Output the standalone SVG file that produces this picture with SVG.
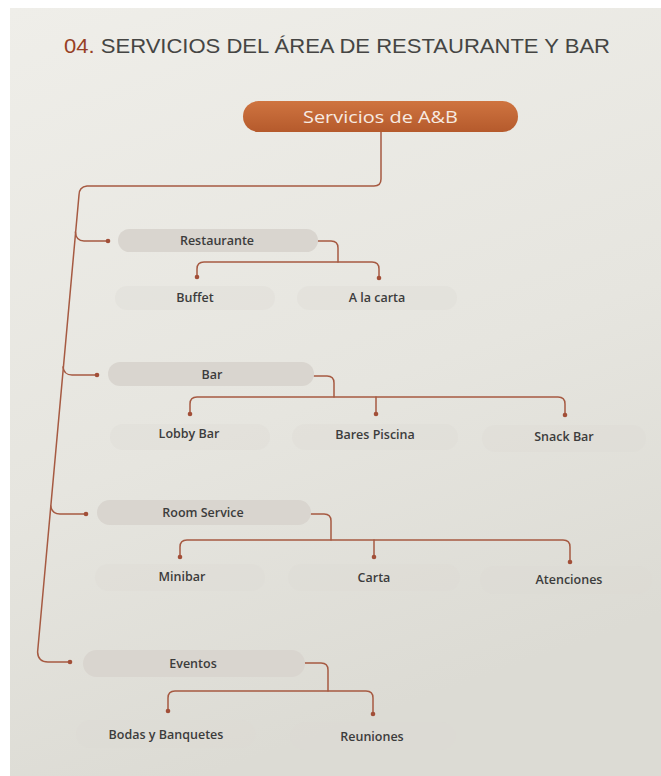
<svg xmlns="http://www.w3.org/2000/svg" width="661" height="776" viewBox="0 0 661 776">
<defs>
<linearGradient id="page" x1="0" y1="0" x2="0.3" y2="1">
<stop offset="0" stop-color="#efeee9"/>
<stop offset="0.6" stop-color="#e6e5df"/>
<stop offset="1" stop-color="#dcdbd4"/>
</linearGradient>
<linearGradient id="top" x1="0" y1="0" x2="0" y2="1">
<stop offset="0" stop-color="#cf7440"/>
<stop offset="1" stop-color="#b55a2c"/>
</linearGradient>
<style>
.ln{fill:none;stroke:#a65a42;stroke-width:1.5;stroke-linecap:round}
.dot{fill:#a24f38}
.mid{fill:#d9d5cf}
.leaf{fill:#dedad4;opacity:0.35}
.lb{font-family:"Open Sans","Noto Sans",sans-serif;font-weight:600;font-size:12.5px;fill:#3c3c3c;text-anchor:middle}
.tt{font-family:"Liberation Sans","Noto Sans",sans-serif;font-size:21px;fill:#454543}
</style>
</defs>
<rect x="0" y="0" width="661" height="776" fill="#ffffff"/>
<rect x="10" y="8" width="651" height="768" fill="url(#page)"/>
<text class="tt" x="64" y="53" textLength="546" lengthAdjust="spacingAndGlyphs"><tspan fill="#973f24">04.</tspan> SERVICIOS DEL ÁREA DE RESTAURANTE Y BAR</text>
<g id="connectors">
<path class="ln" d="M381,131 V179 Q381,186 374,186 H87 Q79,187 79,195 L37.6,652 Q38,662 48,662 H70"/>
<path class="ln" d="M75.4,232 Q76,241 84,241 H108"/>
<path class="ln" d="M63,367 Q64,375 72,375 H97"/>
<path class="ln" d="M50.7,506 Q52,514 60,514 H86"/>
<path class="ln" d="M318,241 H331 Q338,241 338,248 V262"/>
<path class="ln" d="M197,276 V269 Q197,262 204,262 H372 Q379,262 379,269 V277"/>
<path class="ln" d="M314,376 H327 Q334,376 334,383 V397"/>
<path class="ln" d="M190,413 V404 Q190,397 197,397 H558 Q565,397 565,404 V414"/>
<path class="ln" d="M376,397 V413"/>
<path class="ln" d="M311,514 H324 Q331,514 331,521 V540"/>
<path class="ln" d="M180,556 V547 Q180,540 187,540 H563 Q570,540 570,547 V561"/>
<path class="ln" d="M374,540 V556"/>
<path class="ln" d="M305,663 H321 Q328,663 328,670 V691"/>
<path class="ln" d="M168,710 V698 Q168,691 175,691 H366 Q373,691 373,698 V713"/>
<circle class="dot" cx="108" cy="241" r="2.3"/>
<circle class="dot" cx="97" cy="375" r="2.3"/>
<circle class="dot" cx="86" cy="514" r="2.3"/>
<circle class="dot" cx="70" cy="662" r="2.3"/>
<circle class="dot" cx="197" cy="277" r="2.3"/>
<circle class="dot" cx="379" cy="278" r="2.3"/>
<circle class="dot" cx="190" cy="414" r="2.3"/>
<circle class="dot" cx="376" cy="414" r="2.3"/>
<circle class="dot" cx="565" cy="415" r="2.3"/>
<circle class="dot" cx="180" cy="557" r="2.3"/>
<circle class="dot" cx="374" cy="557" r="2.3"/>
<circle class="dot" cx="570" cy="562" r="2.3"/>
<circle class="dot" cx="168" cy="711" r="2.3"/>
<circle class="dot" cx="373" cy="714" r="2.3"/>
</g>
<g id="root">
<rect x="243" y="101" width="275" height="31" rx="15.5" fill="url(#top)"/>
<text x="380.5" y="123" text-anchor="middle" font-family="'Open Sans','Noto Sans',sans-serif" font-weight="500" font-size="16.5" fill="#f7ebe2" textLength="155" lengthAdjust="spacingAndGlyphs">Servicios de A&amp;B</text>
</g>
<g id="restaurante"><rect class="mid" x="118" y="229" width="200" height="23" rx="11.5"/><text class="lb" x="217" y="245">Restaurante</text></g>
<g id="buffet"><rect class="leaf" x="115" y="286" width="160" height="24" rx="12"/><text class="lb" x="195" y="302">Buffet</text></g>
<g id="alacarta"><rect class="leaf" x="297" y="286" width="160" height="24" rx="12"/><text class="lb" x="377" y="302">A la carta</text></g>
<g id="bar"><rect class="mid" x="108" y="362" width="206" height="24" rx="12"/><text class="lb" x="212" y="379">Bar</text></g>
<g id="lobbybar"><rect class="leaf" x="110" y="424" width="160" height="26" rx="13"/><text class="lb" x="189" y="438">Lobby Bar</text></g>
<g id="barespiscina"><rect class="leaf" x="292" y="424" width="166" height="26" rx="13"/><text class="lb" x="375" y="439">Bares Piscina</text></g>
<g id="snackbar"><rect class="leaf" x="482" y="425" width="164" height="27" rx="13.5"/><text class="lb" x="564" y="441">Snack Bar</text></g>
<g id="roomservice"><rect class="mid" x="97" y="500" width="214" height="25" rx="12.5"/><text class="lb" x="203" y="517">Room Service</text></g>
<g id="minibar"><rect class="leaf" x="95" y="564" width="170" height="27" rx="13.5"/><text class="lb" x="182" y="581">Minibar</text></g>
<g id="carta"><rect class="leaf" x="288" y="564" width="172" height="27" rx="13.5"/><text class="lb" x="374" y="582">Carta</text></g>
<g id="atenciones"><rect class="leaf" x="480" y="566" width="172" height="28" rx="14"/><text class="lb" x="569" y="584">Atenciones</text></g>
<g id="eventos"><rect class="mid" x="83" y="650" width="222" height="27" rx="13.5"/><text class="lb" x="193" y="668">Eventos</text></g>
<g id="bodas"><rect class="leaf" x="76" y="720" width="180" height="28" rx="14"/><text class="lb" x="166" y="739">Bodas y Banquetes</text></g>
<g id="reuniones"><rect class="leaf" x="290" y="722" width="166" height="28" rx="14"/><text class="lb" x="372" y="741">Reuniones</text></g>
</svg>
